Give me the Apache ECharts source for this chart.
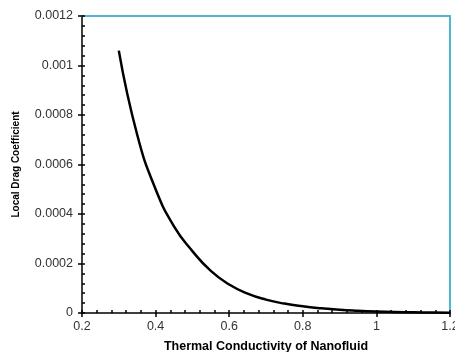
<!DOCTYPE html>
<html>
<head>
<meta charset="utf-8">
<script src="https://cdn.jsdelivr.net/npm/echarts@6/dist/echarts.min.js"></script>
<style>
  html, body { margin: 0; padding: 0; background: #fff; }
  #chart { width: 455px; height: 352px; }
</style>
</head>
<body>
<div id="chart"></div>
<script>
// values
const conductivity = [0.30, 0.35, 0.40, 0.45, 0.50, 0.55, 0.60, 0.65, 0.70, 0.75,
  0.80, 0.85, 0.90, 0.95, 1.00, 1.05, 1.10, 1.15, 1.20];
const dragCoefficient = [0.00106, 0.00072, 0.00050, 0.00035, 0.00025, 0.00017, 0.000115,
  0.000078, 0.000054, 0.000038, 0.000027, 0.000019, 0.000013, 0.000009, 0.000006,
  0.000004, 0.000003, 0.000002, 0.0000015];

const xRange = { min: 0.2, max: 1.2, interval: 0.2 };
const yRange = { min: 0, max: 0.0012, interval: 0.0002 };

const font = "'Liberation Sans', Arial, sans-serif";
const frameColor = "#4fb6d2";
const fmt = (v) => String(+v.toFixed(4));

const chart = echarts.init(document.getElementById("chart"));

const blankAxis = (extra) => Object.assign({
  type: "value",
  axisLabel: { show: false },
  splitLine: { show: false },
  axisTick: { show: false },
  axisLine: { show: false }
}, extra);

chart.setOption({
  animation: false,
  grid: { left: 82, right: 5, top: 16, bottom: 39, containLabel: false, outerBoundsMode: "none" },
  xAxis: [
    {
      type: "value",
      ...xRange,
      name: "Thermal Conductivity of Nanofluid",
      nameLocation: "middle",
      nameGap: 27,
      nameTextStyle: { fontFamily: font, fontSize: 12.5, fontWeight: "bold", color: "#000" },
      axisLine: { lineStyle: { color: "#000", width: 1.5 } },
      axisTick: { inside: true, length: 3, lineStyle: { color: "#000", width: 1.5 } },
      minorTick: { show: true, splitNumber: 5, length: 3, lineStyle: { color: "#000", width: 1.5 } },
      axisLabel: { fontFamily: font, fontSize: 12.5, color: "#333", margin: 7, formatter: fmt },
      splitLine: { show: false }
    },
    blankAxis({ ...xRange, position: "bottom", axisTick: { show: true, length: 4, lineStyle: { color: "#000", width: 1.5 } } }),
    blankAxis({ ...xRange, position: "top", axisLine: { show: true, onZero: false, lineStyle: { color: frameColor, width: 2 } } })
  ],
  yAxis: [
    {
      type: "value",
      ...yRange,
      name: "Local Drag Coefficient",
      nameLocation: "middle",
      nameGap: 61,
      nameTextStyle: { fontFamily: font, fontSize: 10, fontWeight: "bold", color: "#000" },
      axisLine: { show: true, lineStyle: { color: "#000", width: 1.5 } },
      axisTick: { show: true, inside: true, length: 3, lineStyle: { color: "#000", width: 1.5 } },
      minorTick: { show: true, splitNumber: 5, length: 3, lineStyle: { color: "#000", width: 1.5 } },
      axisLabel: { fontFamily: font, fontSize: 12.5, color: "#333", margin: 9, formatter: fmt },
      splitLine: { show: false }
    },
    blankAxis({ ...yRange, position: "left", axisTick: { show: true, length: 4, lineStyle: { color: "#000", width: 1.5 } } }),
    blankAxis({ ...yRange, position: "right", axisLine: { show: true, onZero: false, lineStyle: { color: frameColor, width: 2 } } })
  ],
  series: [
    {
      type: "line",
      xAxisIndex: 0,
      yAxisIndex: 0,
      data: conductivity.map((x, i) => [x, dragCoefficient[i]]),
      smooth: 0.5,
      showSymbol: false,
      lineStyle: { color: "#000", width: 2.5 }
    }
  ]
});
</script>
</body>
</html>
